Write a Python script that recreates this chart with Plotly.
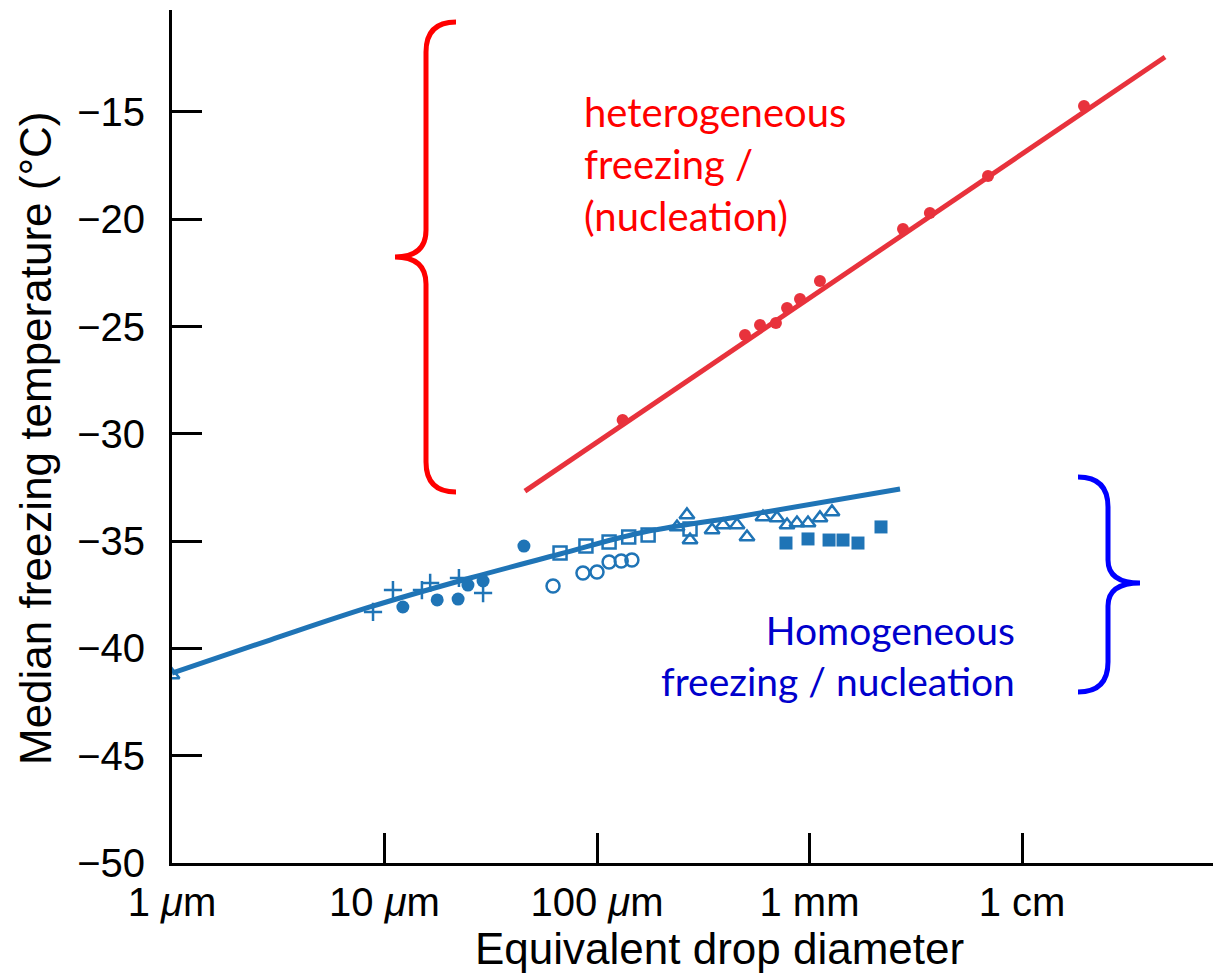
import plotly.graph_objects as go

# ---------------- data ----------------
# heterogeneous (red) data points
het_x = [132, 497, 585, 695, 784, 902, 1120, 2754, 3686, 6918, 19580]
het_y = [-29.36, -25.40, -24.93, -24.84, -24.14, -23.72, -22.88, -20.46, -19.71, -17.99, -14.72]
het_fit_x = [45.8, 47100]
het_fit_y = [-32.67, -12.44]

# homogeneous (blue) fitted curve
hom_fit_x = [1, 2.89, 8.55, 25.3, 67, 159, 471, 2667]
hom_fit_y = [-41.15, -39.61, -38.07, -36.72, -35.60, -34.62, -33.85, -32.57]

# homogeneous data sets
plus_x = [8.83, 10.96, 15.0, 16.4, 22.4, 29.1]
plus_y = [-38.30, -37.28, -37.28, -36.95, -36.72, -37.42]

dot_x = [12.2, 17.7, 22.2, 24.7, 29.1, 45.3]
dot_y = [-38.07, -37.74, -37.70, -37.05, -36.86, -35.23]

ocirc_x = [62.1, 85.9, 100, 114, 130, 146]
ocirc_y = [-37.09, -36.49, -36.44, -35.97, -35.93, -35.88]

osq_x = [67, 88.7, 114, 141, 174, 274]
osq_y = [-35.55, -35.23, -35.04, -34.81, -34.72, -34.44]

otri_x = [1, 238, 265, 274, 348, 392, 456, 508, 604, 703, 784, 873, 984, 1120, 1276]
otri_y = [-41.24, -34.34, -33.78, -34.95, -34.48, -34.25, -34.25, -34.81, -33.88,
          -33.92, -34.25, -34.16, -34.16, -33.92, -33.64]

fsq_x = [775, 984, 1236, 1438, 1691, 2170]
fsq_y = [-35.09, -34.90, -34.95, -34.95, -35.09, -34.34]

x_tickvals = [1, 10, 100, 1000, 10000]
x_ticktext = ["1 <i>\u03bc</i>m", "10 <i>\u03bc</i>m", "100 <i>\u03bc</i>m", "1 mm", "1 cm"]
y_tickvals = [-50, -45, -40, -35, -30, -25, -20, -15]
y_ticktext = ["\u221250", "\u221245", "\u221240", "\u221235", "\u221230", "\u221225", "\u221220", "\u221215"]

RED = "#e8323c"
BLUE = "#1f74b6"

# ---------------- figure ----------------
OFF = 8  # page body margin
W, H = 1221 - OFF, 978 - OFF
ML, MR, MT, MB = 172 - OFF, 0, 10 - OFF, 115
PW, PH = W - ML - MR, H - MT - MB

fig = go.Figure()

fig.add_trace(go.Scatter(x=het_fit_x, y=het_fit_y, mode="lines",
                         line=dict(color=RED, width=5), showlegend=False))
fig.add_trace(go.Scatter(x=het_x, y=het_y, mode="markers",
                         marker=dict(color=RED, size=12, symbol="circle"), showlegend=False))

fig.add_trace(go.Scatter(x=hom_fit_x, y=hom_fit_y, mode="lines",
                         line=dict(color=BLUE, width=5, shape="spline", smoothing=1.0),
                         showlegend=False))

fig.add_trace(go.Scatter(x=plus_x, y=plus_y, mode="markers",
                         marker=dict(symbol="cross-thin", size=13, line=dict(color=BLUE, width=2.5)),
                         showlegend=False))
fig.add_trace(go.Scatter(x=dot_x, y=dot_y, mode="markers",
                         marker=dict(symbol="circle", size=13, color=BLUE), showlegend=False))
fig.add_trace(go.Scatter(x=ocirc_x, y=ocirc_y, mode="markers",
                         marker=dict(symbol="circle-open", size=13, color=BLUE, line=dict(width=2.5)),
                         showlegend=False))
fig.add_trace(go.Scatter(x=osq_x, y=osq_y, mode="markers",
                         marker=dict(symbol="square-open", size=13, color=BLUE, line=dict(width=2.5)),
                         showlegend=False))
fig.add_trace(go.Scatter(x=otri_x, y=otri_y, mode="markers",
                         marker=dict(symbol="triangle-up-open", size=13, color=BLUE, line=dict(width=2.5)),
                         showlegend=False))
fig.add_trace(go.Scatter(x=fsq_x, y=fsq_y, mode="markers",
                         marker=dict(symbol="square", size=13, color=BLUE), showlegend=False))


def px2paper(px, py):
    # px, py: screen pixel coordinates of the reference picture
    return (px - OFF - ML) / PW, (H - MB - (py - OFF)) / PH


def brace_path(pts):
    parts = []
    for cmd, coords in pts:
        s = " ".join("%.5f,%.5f" % px2paper(x, y) for x, y in coords)
        parts.append(cmd + " " + s)
    return " ".join(parts)


red_brace = brace_path([
    ("M", [(456, 22)]), ("Q", [(426, 22), (426, 52)]), ("L", [(426, 230)]),
    ("Q", [(426, 257), (395, 257)]), ("Q", [(426, 257), (426, 284)]),
    ("L", [(426, 462)]), ("Q", [(426, 492), (456, 492)]),
])
blue_brace = brace_path([
    ("M", [(1078, 477)]), ("Q", [(1108, 477), (1108, 507)]), ("L", [(1108, 560)]),
    ("Q", [(1108, 583), (1140, 583)]), ("Q", [(1108, 583), (1108, 606)]),
    ("L", [(1108, 662)]), ("Q", [(1108, 692), (1078, 692)]),
])

fig.add_shape(type="path", path=red_brace, xref="paper", yref="paper",
              line=dict(color="#ff0000", width=5))
fig.add_shape(type="path", path=blue_brace, xref="paper", yref="paper",
              line=dict(color="#0000ff", width=5))

ax_font = dict(family="Liberation Sans, Arial, sans-serif", size=40, color="black")

fig.update_xaxes(type="log", range=[0, PW / 212.5], tickvals=x_tickvals, ticktext=x_ticktext,
                 ticks="inside", ticklen=30, tickwidth=3, tickcolor="black",
                 showline=True, linecolor="black", linewidth=3, showgrid=False, zeroline=False,
                 tickfont=ax_font, ticklabelstandoff=2)
fig.update_yaxes(range=[-50, -50 + PH / 21.46], tickvals=y_tickvals, ticktext=y_ticktext,
                 ticks="inside", ticklen=30, tickwidth=3, tickcolor="black",
                 showline=True, linecolor="black", linewidth=3, showgrid=False, zeroline=False,
                 tickfont=ax_font, ticklabelstandoff=16)

tx, ty = px2paper(719, 948)
fig.add_annotation(text="Equivalent drop diameter", x=tx, y=ty, xref="paper", yref="paper",
                   showarrow=False, xanchor="center", yanchor="middle",
                   font=dict(family="Liberation Sans, Arial, sans-serif", size=44, color="black"))
tx, ty = px2paper(35, 439)
fig.add_annotation(text="Median freezing temperature (\u00b0C)", x=tx, y=ty, xref="paper", yref="paper",
                   showarrow=False, xanchor="center", yanchor="middle", textangle=-90,
                   font=dict(family="Liberation Sans, Arial, sans-serif", size=44, color="black"))

tx, ty = px2paper(582, 164)
fig.add_annotation(text="heterogeneous<br>freezing /<br>(nucleation)", x=tx, y=ty,
                   xref="paper", yref="paper", showarrow=False, xanchor="left", yanchor="middle",
                   align="left", font=dict(family="Lato, sans-serif", size=40, color="#ff0000"))
tx, ty = px2paper(1017, 655)
fig.add_annotation(text="Homogeneous<br>freezing / nucleation", x=tx, y=ty,
                   xref="paper", yref="paper", showarrow=False, xanchor="right", yanchor="middle",
                   align="right", font=dict(family="Lato, sans-serif", size=39, color="#0000cc"))

fig.update_layout(width=W, height=H, margin=dict(l=ML, r=MR, t=MT, b=MB, pad=0),
                  plot_bgcolor="white", paper_bgcolor="white", showlegend=False)

fig.write_html("out.html")
